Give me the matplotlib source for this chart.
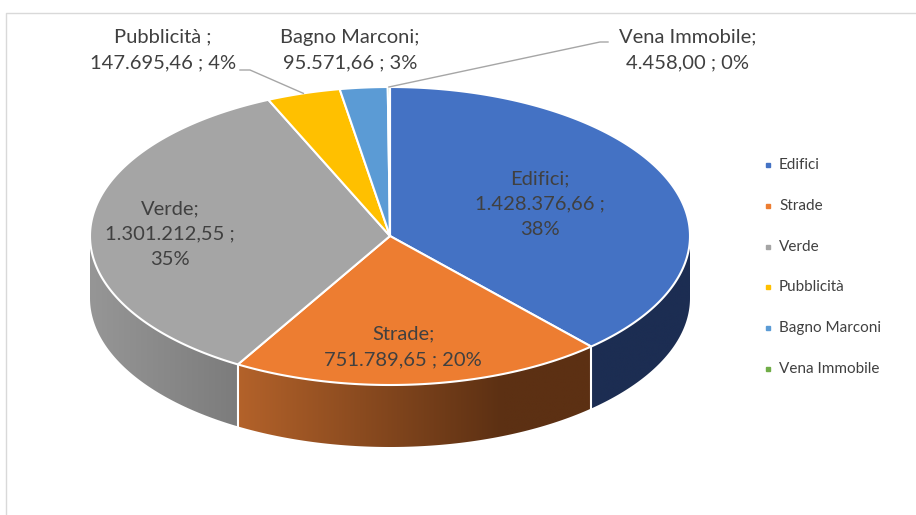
import numpy as np
import matplotlib.pyplot as plt
from matplotlib.patches import Polygon
from matplotlib.colors import LinearSegmentedColormap

plt.rcParams['font.family'] = ['Lato', 'DejaVu Sans']

# data
categories = ['Edifici', 'Strade', 'Verde', 'Pubblicità', 'Bagno Marconi', 'Vena Immobile']
values = [1428376.66, 751789.65, 1301212.55, 147695.46, 95571.66, 4458.00]
label_names = ['Edifici;', 'Strade;', 'Verde;', 'Pubblicità ;', 'Bagno Marconi;', 'Vena Immobile;']

# styles
top_colors = ['#4472C4', '#ED7D31', '#A5A5A5', '#FFC000', '#5B9BD5', '#70AD47']
side_stops = [[(0, '#1C2D52'), (1, '#1C2D52')],
              [(0, '#B3622A'), (0.75, '#5C3013'), (1, '#5C3013')],
              [(0, '#969696'), (1, '#7C7C7C')],
              [(0, '#BF9000'), (1, '#BF9000')],
              [(0, '#41719C'), (1, '#41719C')],
              [(0, '#507E32'), (1, '#507E32')]]
text_col = '#404040'

# layout (pixels)
cx, cy, rx, ry, depth = 390, 236, 300, 149, 62
label_pos = [(540, 204), (403, 347), (170, 234), (163, 50), (350, 50), (688, 50)]
label_break = [True, False, True, False, False, False]
leader_start = {3: (240, 70), 5: (608, 42)}
leader_elbow = {3: (250, 70), 5: (600, 42)}


def pt(theta, dy=0):
    t = np.radians(theta)
    return cx + rx * np.sin(t), cy - ry * np.cos(t) + dy


def it_num(v):
    s = '{:,.2f}'.format(v)
    return s.replace(',', 'X').replace('.', ',').replace('X', '.')


fig = plt.figure(figsize=(9.16, 5.15), dpi=100)
ax = fig.add_axes([0, 0, 1, 1])
ax.set_xlim(0, 916)
ax.set_ylim(515, 0)
ax.axis('off')

total = sum(values)
fracs = [v / total for v in values]
bounds = np.concatenate([[0], np.cumsum(fracs) * 360])

# side faces (front half only)
for i in range(len(values)):
    a, b = bounds[i], bounds[i + 1]
    lo, hi = max(a, 90), min(b, 270)
    if lo >= hi:
        continue
    th = np.linspace(lo, hi, 80)
    top = [pt(t) for t in th]
    bot = [pt(t, depth) for t in th[::-1]]
    poly = Polygon(top + bot, closed=True, facecolor='none', edgecolor='none')
    ax.add_patch(poly)
    xs = [p[0] for p in top + bot]
    ys = [p[1] for p in top + bot]
    cmap = LinearSegmentedColormap.from_list('s%d' % i, side_stops[i])
    grad = np.linspace(0, 1, 256).reshape(1, -1)
    im = ax.imshow(grad, cmap=cmap, extent=(min(xs), max(xs), max(ys), min(ys)),
                   aspect='auto', interpolation='bilinear', zorder=1)
    im.set_clip_path(poly)

# white vertical edges on the side
for t in bounds[1:-1]:
    if 90 < t < 270:
        x0, y0 = pt(t)
        x1, y1 = pt(t, depth)
        ax.plot([x0, x1], [y0, y1], color='white', lw=1.5, zorder=2)

# top faces
for i in range(len(values)):
    a, b = bounds[i], bounds[i + 1]
    th = np.linspace(a, b, max(int((b - a) * 2), 3))
    pts = [(cx, cy)] + [pt(t) for t in th]
    ax.add_patch(Polygon(pts, closed=True, facecolor=top_colors[i],
                         edgecolor='white', lw=1.5, zorder=3))

# data labels
for i in range(len(values)):
    pct = '{:.0f}%'.format(fracs[i] * 100)
    if label_break[i]:
        s = '%s\n%s ;\n%s' % (label_names[i], it_num(values[i]), pct)
    else:
        s = '%s\n%s ; %s' % (label_names[i], it_num(values[i]), pct)
    x, y = label_pos[i]
    ax.text(x, y, s, ha='center', va='center', fontsize=14.5, color=text_col,
            linespacing=1.6, zorder=5)

# leader lines
for i in leader_start:
    mid = (bounds[i] + bounds[i + 1]) / 2
    ex, ey = pt(mid)
    sx, sy = leader_start[i]
    kx, ky = leader_elbow[i]
    ax.plot([sx, kx, ex], [sy, ky, ey], color='#A6A6A6', lw=1, zorder=4)

# legend
for i, cat in enumerate(categories):
    y = 165 + 40.8 * i
    ax.plot(768, y, marker='s', ms=3.5, color=top_colors[i], zorder=5)
    ax.text(779, y, cat, ha='left', va='center', fontsize=11, color=text_col)

# chart border
ax.plot([5.5, 5.5, 916], [515, 12.5, 12.5], color='#D9D9D9', lw=1)

fig.savefig('out.png', dpi=100)
